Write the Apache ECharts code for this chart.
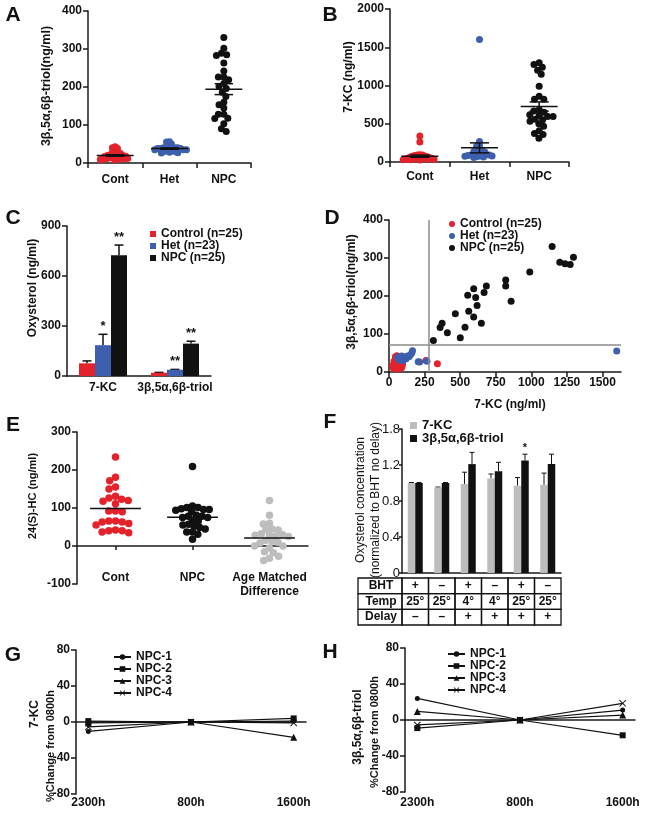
<!DOCTYPE html>
<html><head><meta charset="utf-8">
<script src="https://cdn.jsdelivr.net/npm/echarts@6/dist/echarts.min.js"></script>
<style>html,body{margin:0;padding:0;background:#fff}#c{width:647px;height:813px}</style>
</head><body><div id="c"></div>
<script>
// ================= DATA =================
const groupNames = ['Cont', 'Het', 'NPC'];
// paired samples: 7-KC (ng/ml) and 3β,5α,6β-triol (ng/ml)
const contKC    = [340, 260, 95, 90, 90, 85, 80, 75, 70, 65, 60, 55, 55, 50, 50, 45, 45, 40, 40, 35, 35, 30, 30, 25, 60];
const contTriol = [22, 30, 20, 25, 12, 18, 10, 15, 38, 20, 8, 43, 12, 17, 14, 40, 10, 22, 13, 9, 28, 11, 18, 15, 25];
const hetKC     = [1600, 267, 215, 205, 165, 160, 150, 140, 130, 120, 110, 100, 100, 95, 90, 90, 85, 80, 80, 75, 70, 65, 60];
const hetTriol  = [55, 28, 26, 27, 56, 50, 45, 40, 42, 35, 38, 30, 40, 35, 42, 33, 38, 30, 36, 32, 40, 35, 38];
const npcKC     = [312, 359, 373, 410, 466, 501, 534, 553, 560, 595, 595, 609, 619, 649, 668, 684, 820, 820, 858, 989, 1146, 1200, 1237, 1273, 1296];
const npcTriol  = [83, 117, 128, 103, 153, 90, 118, 202, 160, 219, 145, 196, 175, 128, 209, 226, 242, 226, 186, 263, 330, 289, 285, 283, 302];

const cCategories = ['7-KC', '3β,5α,6β-triol'];
const cNames = ['Control (n=25)', 'Het (n=23)', 'NPC (n=25)'];
const cStars = [['', ''], ['*', '**'], ['**', '**']];   // per group, per category

const dTicksKC = [0, 250, 500, 750, 1000, 1250, 1500];
const dThreshKC = 276;
const dThreshTriol = 72;

const eCategories = ['Cont', 'NPC', 'Age Matched\nDifference'];
const eCont = [234, 181, 172, 155, 150, 131, 126, 123, 120, 118, 111, 92, 92, 90, 66, 66, 63, 63, 59, 55, 42, 40, 40, 37, 35];
const eNPC  = [209, 105, 101, 101, 98, 96, 96, 94, 90, 81, 78, 78, 75, 75, 68, 65, 57, 55, 52, 49, 45, 37, 37, 31, 18];
const eDiff = [120, 81, 60, 58, 45, 43, 42, 32, 30, 28, 28, 26, 25, 15, 12, 10, 8, 0, 0, -5, -15, -18, -27, -32, -38];

const fNames = ['7-KC', '3β,5α,6β-triol'];
const f7KC      = [1.00, 0.95, 0.99, 1.05, 0.97, 0.98];
const f7KCErr   = [0.005, 0.005, 0.13, 0.05, 0.09, 0.13];
const fTriol    = [1.00, 1.00, 1.21, 1.13, 1.25, 1.21];
const fTriolErr = [0.005, 0.005, 0.13, 0.10, 0.07, 0.11];
const fStars    = ['', '', '', '', '*', ''];
const fTickLabels = ['0', '0.4', '0.8', '1.2', '1.8'];
const tableRowNames = ['BHT', 'Temp', 'Delay'];
const tableBHT   = ['+', '–', '+', '–', '+', '–'];
const tableTemp  = ['25°', '25°', '4°', '4°', '25°', '25°'];
const tableDelay = ['–', '–', '+', '+', '+', '+'];

const timeLabels = ['2300h', '800h', '1600h'];
const npcNames = ['NPC-1', 'NPC-2', 'NPC-3', 'NPC-4'];
const gNPC1 = [-10.5, 0, 1];
const gNPC2 = [1, 0, 4];
const gNPC3 = [-1, 0, -17];
const gNPC4 = [-5.5, 0, -1];
const hNPC1 = [24, 0, 11];
const hNPC2 = [-9, 0, -17];
const hNPC3 = [9.5, 0, 5.5];
const hNPC4 = [-5.5, 0, 18.5];

// ================= HELPERS =================
const FONT = 'Arial, "Liberation Sans", Helvetica, sans-serif';
const RED = '#e3222c', BLUE = '#3d5fad', BLACK = '#111111', GRAY = '#bdbdbd';
const mean = a => a.reduce((s, v) => s + v, 0) / a.length;
const sem = a => { const m = mean(a); return Math.sqrt(a.reduce((s, v) => s + (v - m) * (v - m), 0) / (a.length - 1)) / Math.sqrt(a.length); };

function swarmPx(values, pxY, d) {
  const order = values.map((v, i) => i).sort((a, b) => values[b] - values[a]);
  const placed = [], out = new Array(values.length).fill(0);
  for (const i of order) {
    const y = values[i] * pxY;
    const cands = [0];
    for (const p of placed) {
      const dy = Math.abs(p.y - y);
      if (dy < d) { const dx = Math.sqrt(d * d - dy * dy); cands.push(p.x + dx, p.x - dx); }
    }
    cands.sort((a, b) => (Math.abs(a) - Math.abs(b)) || (a - b));
    let x = 0;
    for (const c of cands) {
      if (placed.every(p => (p.x - c) * (p.x - c) + (p.y - y) * (p.y - y) >= d * d - 1e-6)) { x = c; break; }
    }
    placed.push({ x, y }); out[i] = x;
  }
  return out;
}
function swarm(values, pxY, catPx, d0, maxHalf) {
  let d = d0, off;
  while (true) {
    off = swarmPx(values, pxY, d);
    const m = Math.max(...off.map(Math.abs));
    if (m <= maxHalf || d <= 1) break;
    d -= 0.25;
  }
  return off.map(o => o / catPx);
}
function swarmData(groups, pxY, catPx, d0s, maxHalf) {
  return groups.map((g, gi) => { const off = swarm(g, pxY, catPx, d0s[gi], maxHalf); return g.map((v, i) => [gi + off[i], v]); });
}

const axisLineS = { show: true, onZero: false, lineStyle: { color: '#1a1a1a', width: 1.5 } };
const axisTickS = { show: true, length: 5, lineStyle: { color: '#1a1a1a', width: 1.5 } };
const lbl = (size, weight, extra) => Object.assign({ fontFamily: FONT, fontWeight: weight || 'bold', fontSize: size || 12, color: '#111' }, extra || {});
const plain = v => String(v);

function valY(gi, min, max, interval, extra) {
  return Object.assign({
    type: 'value', gridIndex: gi, min, max, interval,
    axisLine: axisLineS, axisTick: axisTickS, splitLine: { show: false },
    axisLabel: lbl(12, 'bold', { margin: 6, formatter: plain })
  }, extra || {});
}

function meanSeries(xi, yi, groups, hw, sw, withSem) {
  const data = groups.map((g, i) => [i, mean(g), sem(g)]);
  return {
    type: 'custom', xAxisIndex: xi, yAxisIndex: yi, z: 10, silent: true, data,
    renderItem: (p, api) => {
      const i = api.value(0), m = api.value(1), s = api.value(2);
      const st = { stroke: BLACK, lineWidth: 1.5 };
      const seg = (a, b) => ({ type: 'line', shape: { x1: a[0], y1: a[1], x2: b[0], y2: b[1] }, style: st });
      const ch = [seg(api.coord([i - hw, m]), api.coord([i + hw, m]))];
      if (withSem) {
        ch.push(seg(api.coord([i, m - s]), api.coord([i, m + s])));
        ch.push(seg(api.coord([i - sw, m - s]), api.coord([i + sw, m - s])));
        ch.push(seg(api.coord([i - sw, m + s]), api.coord([i + sw, m + s])));
      }
      return { type: 'group', children: ch };
    }
  };
}

function errSeries(xi, yi, means, errs, offsetPx, cap, lw, stars, starSize) {
  return {
    type: 'custom', xAxisIndex: xi, yAxisIndex: yi, z: 1, silent: true,
    data: means.map((m, i) => [i, m, errs[i]]),
    renderItem: (p, api) => {
      const i = api.value(0), m = api.value(1), e = api.value(2);
      const b = api.coord([i, m]), t = api.coord([i, m + e]);
      const x = b[0] + offsetPx;
      const st = { stroke: BLACK, lineWidth: lw };
      const ch = [
        { type: 'line', shape: { x1: x, y1: b[1], x2: x, y2: t[1] }, style: st },
        { type: 'line', shape: { x1: x - cap, y1: t[1], x2: x + cap, y2: t[1] }, style: st }
      ];
      const s = stars[p.dataIndex];
      if (s) ch.push({ type: 'text', x: x, y: t[1] - 1, style: { text: s, font: 'bold ' + starSize + 'px ' + FONT, fill: BLACK, align: 'center', verticalAlign: 'bottom', textAlign: 'center', textVerticalAlign: 'bottom' } });
      return { type: 'group', children: ch };
    }
  };
}

function vtext(x, y, text, font) {
  return { type: 'text', x, y, rotation: Math.PI / 2, silent: true,
    style: { text, font, fill: '#111', align: 'center', verticalAlign: 'middle', textAlign: 'center', textVerticalAlign: 'middle' } };
}
function htext(x, y, text, font) {
  return { type: 'text', x, y, silent: true,
    style: { text, font, fill: '#111', align: 'center', verticalAlign: 'middle', textAlign: 'center', textVerticalAlign: 'middle' } };
}

// ================= BUILD =================
const grids = [
  { left: 88, top: 11, width: 163, height: 152 },     // 0 A
  { left: 390, top: 9, width: 179, height: 153 },     // 1 B
  { left: 67, top: 226, width: 144, height: 150 },    // 2 C
  { left: 389, top: 220, width: 232, height: 152 },   // 3 D
  { left: 77, top: 432, width: 231, height: 152 },    // 4 E
  { left: 402, top: 429, width: 159, height: 144 },   // 5 F
  { left: 402, top: 578, width: 159, height: 47 },    // 6 F table
  { left: 76, top: 650, width: 230, height: 144 },    // 7 G
  { left: 405, top: 648, width: 230, height: 144 }    // 8 H
].map(g => Object.assign({ outerBoundsMode: 'none', containLabel: false }, g));

const catValueX = (gi, margin) => ({
  type: 'value', gridIndex: gi, min: -0.5, max: 2.5,
  axisLine: axisLineS, splitLine: { show: false },
  axisTick: Object.assign({}, axisTickS, { customValues: [-0.5, 0.5, 1.5, 2.5] }),
  axisLabel: lbl(12, 'bold', { margin, customValues: [0, 1, 2], formatter: v => groupNames[Math.round(v)] })
});
const timeX = (gi, margin) => ({
  type: 'value', gridIndex: gi, min: -0.12, max: 2.12,
  axisLine: { show: true, onZero: true, lineStyle: { color: '#1a1a1a', width: 1.5 } },
  axisTick: { show: false }, splitLine: { show: false },
  axisLabel: lbl(12, 'bold', { margin, customValues: [0, 1, 2], formatter: v => timeLabels[Math.round(v)] })
});

const xAxes = [
  catValueX(0, 11),
  catValueX(1, 9),
  { type: 'category', gridIndex: 2, data: cCategories, axisLine: axisLineS, axisTick: { show: false }, axisLabel: lbl(12, 'bold', { margin: 6, interval: 0 }) },
  { type: 'value', gridIndex: 3, min: 0, max: 1630, axisLine: axisLineS, splitLine: { show: false },
    axisTick: Object.assign({}, axisTickS, { customValues: dTicksKC }),
    axisLabel: lbl(12, 'bold', { margin: 5, customValues: dTicksKC, formatter: plain }) },
  { type: 'value', gridIndex: 4, min: -0.5, max: 2.5,
    axisLine: { show: true, onZero: true, lineStyle: { color: '#1a1a1a', width: 1.5 } }, splitLine: { show: false },
    axisTick: { show: true, length: 4, customValues: [0, 1, 2], lineStyle: { color: '#1a1a1a', width: 1.5 } },
    axisLabel: lbl(12, 'bold', { margin: -13, lineHeight: 14, customValues: [0, 1, 2], formatter: v => eCategories[Math.round(v)] }) },
  { type: 'category', gridIndex: 5, data: tableBHT.map((v, i) => i), axisLine: axisLineS, axisTick: { show: false }, axisLabel: { show: false } },
  { type: 'category', gridIndex: 6, data: tableBHT.map((v, i) => i), show: false },
  timeX(7, 3),
  timeX(8, 5)
];

const yAxes = [
  valY(0, 0, 400, 100),
  valY(1, 0, 2000, 500),
  valY(2, 0, 900, 300),
  valY(3, 0, 400, 100),
  valY(4, -100, 300, 100),
  valY(5, 0, 1.6, 0.4, {
    axisTick: { show: true, length: 3, lineStyle: { color: '#1a1a1a', width: 1.5 } },
    axisLabel: lbl(13, 'normal', { margin: 2, formatter: v => fTickLabels[Math.round(v / 0.4)] }) }),
  { type: 'category', gridIndex: 6, data: tableRowNames, inverse: true, show: false },
  valY(7, -80, 80, 40),
  valY(8, -80, 80, 40)
];

const series = [];
// ---- A ----
const aGroups = [contTriol, hetTriol, npcTriol];
const aPts = swarmData(aGroups, 152 / 400, 163 / 3, [6.5, 6.5, 5.5], 17);
[RED, BLUE, BLACK].forEach((col, i) => series.push({ type: 'scatter', xAxisIndex: 0, yAxisIndex: 0, data: aPts[i], symbolSize: 7, itemStyle: { color: col, opacity: 1 }, silent: true }));
series.push(meanSeries(0, 0, aGroups, 0.34, 0.17, true));
// ---- B ----
const bGroups = [contKC, hetKC, npcKC];
const bPts = swarmData(bGroups, 153 / 2000, 179 / 3, [6.5, 6.5, 5.5], 17);
[RED, BLUE, BLACK].forEach((col, i) => series.push({ type: 'scatter', xAxisIndex: 1, yAxisIndex: 1, data: bPts[i], symbolSize: 7, itemStyle: { color: col, opacity: 1 }, silent: true }));
series.push(meanSeries(1, 1, bGroups, 0.31, 0.16, true));
// ---- C ----
const cKC = [contKC, hetKC, npcKC], cTr = [contTriol, hetTriol, npcTriol];
[RED, BLUE, BLACK].forEach((col, k) => {
  const means = [mean(cKC[k]), mean(cTr[k])];
  const errs = [sem(cKC[k]), sem(cTr[k])];
  series.push({ type: 'bar', name: cNames[k], xAxisIndex: 2, yAxisIndex: 2, data: means, barWidth: 16, barGap: '0%', itemStyle: { color: col }, z: 2, silent: true });
  series.push(errSeries(2, 2, means, errs, (k - 1) * 16, 4.5, 1.5, cStars[k], 13));
});
// ---- D ----
const dPairs = [[contKC, contTriol], [hetKC, hetTriol], [npcKC, npcTriol]];
[RED, BLUE, BLACK].forEach((col, k) => {
  const s = { type: 'scatter', name: cNames[k], xAxisIndex: 3, yAxisIndex: 3, data: dPairs[k][0].map((v, i) => [v, dPairs[k][1][i]]), symbolSize: 7, itemStyle: { color: col, opacity: 1 }, silent: true, z: 3 };
  if (k === 0) s.markLine = { silent: true, symbol: 'none', label: { show: false }, animation: false, lineStyle: { color: '#8c8c8c', width: 1.5, type: 'solid' }, data: [{ xAxis: dThreshKC }, { yAxis: dThreshTriol }] };
  series.push(s);
});
// ---- E ----
const eGroups = [eCont, eNPC, eDiff];
const ePts = swarmData(eGroups, 152 / 400, 231 / 3, [9.5, 9.5, 9.5], 20);
[RED, BLACK, GRAY].forEach((col, i) => series.push({ type: 'scatter', xAxisIndex: 4, yAxisIndex: 4, data: ePts[i], symbolSize: 7.5, itemStyle: { color: col, opacity: 1 }, silent: true }));
series.push(meanSeries(4, 4, eGroups, 0.33, 0, false));
// ---- F ----
series.push({ type: 'bar', name: fNames[0], xAxisIndex: 5, yAxisIndex: 5, data: f7KC, barWidth: 7.5, barGap: '0%', itemStyle: { color: GRAY }, silent: true });
series.push({ type: 'bar', name: fNames[1], xAxisIndex: 5, yAxisIndex: 5, data: fTriol, barWidth: 7.5, barGap: '0%', itemStyle: { color: BLACK }, silent: true });
series.push(errSeries(5, 5, f7KC, f7KCErr, -3.75, 2.5, 1, ['', '', '', '', '', ''], 11));
series.push(errSeries(5, 5, fTriol, fTriolErr, 3.75, 2.5, 1, fStars, 11));
// ---- F table ----
const tableCells = [tableBHT, tableTemp, tableDelay];
const tableData = [];
tableCells.forEach((row, r) => row.forEach((v, c) => tableData.push([c, r])));
series.push({
  type: 'custom', xAxisIndex: 6, yAxisIndex: 6, silent: true, data: tableData,
  renderItem: (p, api) => {
    const c = api.value(0), r = api.value(1);
    const pt = api.coord([c, r]), sz = api.size([1, 1]);
    const x0 = pt[0] - sz[0] / 2, y0 = pt[1] - sz[1] / 2;
    const font = 'bold 12px ' + FONT;
    const ch = [
      { type: 'rect', shape: { x: x0, y: y0, width: sz[0], height: sz[1] }, style: { fill: 'none', stroke: BLACK, lineWidth: 1.3 } },
      { type: 'text', x: pt[0], y: pt[1], style: { text: tableCells[r][c], font, fill: BLACK, align: 'center', verticalAlign: 'middle', textAlign: 'center', textVerticalAlign: 'middle' } }
    ];
    if (c === 0) {
      ch.push({ type: 'rect', shape: { x: x0 - 44, y: y0, width: 44, height: sz[1] }, style: { fill: 'none', stroke: BLACK, lineWidth: 1.3 } });
      ch.push({ type: 'text', x: x0 - 21, y: pt[1], style: { text: tableRowNames[r], font, fill: BLACK, align: 'center', verticalAlign: 'middle', textAlign: 'center', textVerticalAlign: 'middle' } });
    }
    return { type: 'group', children: ch };
  }
});
// ---- G & H ----
const npcSymbols = ['circle', 'rect', 'triangle', 'path://M0,1L1,0L5,4L9,0L10,1L6,5L10,9L9,10L5,6L1,10L0,9L4,5Z'];
const npcSizes = [5, 6, 7, 7];
[[gNPC1, gNPC2, gNPC3, gNPC4], [hNPC1, hNPC2, hNPC3, hNPC4]].forEach((set, pi) => {
  set.forEach((vals, k) => series.push({
    type: 'line', name: npcNames[k], xAxisIndex: 7 + pi, yAxisIndex: 7 + pi,
    data: vals.map((v, i) => [i, v]), symbol: npcSymbols[k], symbolSize: npcSizes[k], showSymbol: true,
    lineStyle: { color: BLACK, width: 1.2 }, itemStyle: { color: BLACK }, silent: true, z: 3
  }));
});

const legTxt = (lh, size) => ({ fontFamily: FONT, fontWeight: 'bold', fontSize: size || 12, color: '#111', lineHeight: lh });
const legends = [
  { data: cNames, left: 150, top: 228, orient: 'vertical', icon: 'rect', itemWidth: 6, itemHeight: 6, itemGap: 0, padding: 0, selectedMode: false, textStyle: legTxt(12) },
  { data: cNames, left: 449, top: 218, orient: 'vertical', icon: 'circle', itemWidth: 6, itemHeight: 6, itemGap: 0, padding: 0, selectedMode: false, textStyle: legTxt(12) },
  { data: fNames, left: 410, top: 419, orient: 'vertical', icon: 'rect', itemWidth: 7, itemHeight: 7, itemGap: 0, padding: 0, selectedMode: false, textStyle: legTxt(12, 13) },
  { data: npcNames, left: 113, top: 651, orient: 'vertical', itemWidth: 17, itemHeight: 7, itemGap: 0, padding: 0, selectedMode: false, textStyle: legTxt(10.5, 12) },
  { data: npcNames, left: 447, top: 648, orient: 'vertical', itemWidth: 17, itemHeight: 7, itemGap: 0, padding: 0, selectedMode: false, textStyle: legTxt(10.3, 12) }
];

const B12 = 'bold 12px ' + FONT, B11 = 'bold 11px ' + FONT, N12 = '12px ' + FONT, L = 'bold 21px ' + FONT;
const graphics = [
  htext(13, 15, 'A', L), htext(330, 15, 'B', L), htext(13, 218, 'C', L), htext(332, 218, 'D', L),
  htext(13, 425, 'E', L), htext(330, 422, 'F', L), htext(13, 655, 'G', L), htext(330, 652, 'H', L),
  vtext(47, 86, '3β,5α,6β-triol(ng/ml)', 'bold 12.5px ' + FONT),
  vtext(349, 77, '7-KC (ng/ml)', B12),
  vtext(33, 288, 'Oxysterol (ng/ml)', B12),
  vtext(352, 292, '3β,5α,6β-triol(ng/ml)', B12),
  htext(510, 405, '7-KC (ng/ml)', B12),
  vtext(33, 496, '24(S)-HC (ng/ml)', B11),
  vtext(361, 500, 'Oxysterol concentration', N12),
  vtext(376, 500, '(normalized to BHT no delay)', N12),
  vtext(35, 714, '7-KC', B12),
  vtext(51, 746, '%Change from 0800h', B11),
  vtext(358, 727, '3β,5α,6β-triol', B12),
  vtext(375, 732, '%Change from 0800h', B11)
];

const chart = echarts.init(document.getElementById('c'), null, { renderer: 'canvas' });
chart.setOption({
  animation: false,
  backgroundColor: '#ffffff',
  textStyle: { fontFamily: FONT },
  grid: grids, xAxis: xAxes, yAxis: yAxes, series, legend: legends,
  graphic: graphics
});
</script></body></html>
